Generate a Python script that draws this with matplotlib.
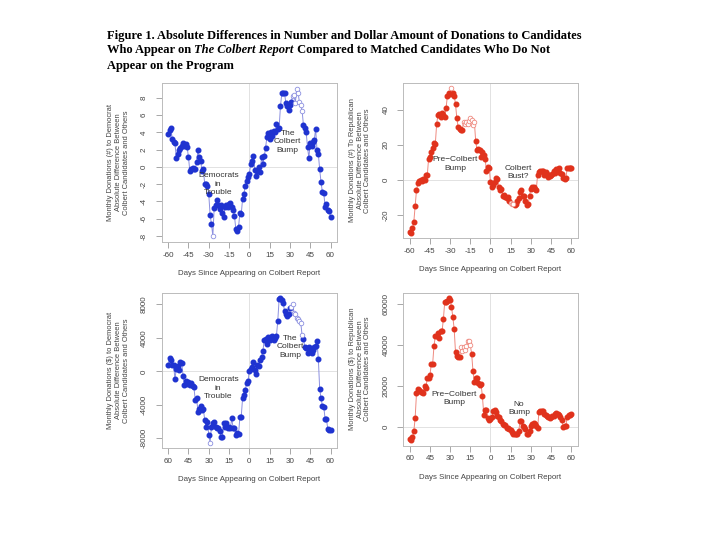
import matplotlib
matplotlib.use("Agg")
import matplotlib.pyplot as plt
import numpy as np

days = list(range(-60, 61))

dem_count = [3.8, 4.3, 4.5, 3.2, 2.9, 2.7, 1.0, 1.5, 2.0, 2.2, 2.4, 2.8, 2.4, 2.6, 2.3, 1.1,
             -0.5, -0.2, -0.1, -0.2, -0.3, 0.6, 1.9, 1.1, 0.7, -0.5, -0.3, -2.0, -2.0, -2.2,
             -3.2, -5.6, -6.6, -8.0, -4.8, -4.4, -3.8, -4.4, -4.9, -4.4, -5.4, -5.8, -4.6,
             -4.4, -4.7, -4.3, -4.2, -4.6, -5.0, -5.7, -7.2, -7.4, -7.0, -5.3, -5.5, -3.7,
             -3.1, -2.2, -1.6, -1.2, -0.8, 0.3, 0.7, 1.2, -0.4, -1.1, -0.5, 0.0, -0.6, 1.1,
             0.3, 1.2, 2.2, 3.5, 3.9, 3.2, 4.0, 3.6, 4.2, 4.0, 4.9, 4.4, 4.5, 7.0, 8.5, 8.6,
             8.5, 7.4, 7.0, 6.6, 7.2, 7.5, 8.2, 8.3, 7.4, 9.0, 8.6, 7.5, 7.2, 6.5, 4.8, 4.5,
             4.0, 2.3, 1.0, 2.8, 2.4, 2.9, 3.1, 4.4, 2.0, 1.5, -0.3, -1.8, -2.9, -3.0, -4.6,
             -4.3, -5.0, -5.1, -5.8]
dem_count_open = [-27, 32, 33, 34, 35, 36, 37, 38, 39]

rep_count = [-29.5, -30, -27.5, -24, -15, -6, -2, -0.5, 0, -0.5, 0.5, 0, 2.5, 2.5, 12, 13,
             16, 18, 21, 20.5, 32, 37, 37.5, 36, 38, 37, 36, 41, 48, 49.5, 49, 52, 49.5, 48,
             43, 35, 30, 29, 28.5, 28.5, 33, 32, 33, 31.5, 33.5, 35, 34, 31, 33, 22, 17,
             17.5, 17, 13, 16, 14, 12, 5, 7.5, 7, -1.5, -4, -3, -1, 1, 0.5, -4, -6, -5, -9,
             -8.5, -10, -10.5, -10, -12, -13, -13.5, -14, -14.5, -13.5, -12, -10.5, -7, -6,
             -9, -9, -12, -14.5, -14, -9, -5, -4, -4, -5, -6, 3, 4.5, 5, 5, 5, 3, 4.5, 3.5,
             1.5, 2, 3, 3.5, 5, 4, 6, 6, 7, 4, 3.5, 1, 0.5, 1, 6.5, 7, 7, 6.5]
rep_count_open = [-29, -20, -19, -18, -17, -16, -15, -14, -13, -12, 15, 16, 17]

dem_dollar = [800, 1600, 1300, 700, 700, -900, 300, 600, 200, 1100, 1000, -500, -1600, -1200,
              -1500, -1300, -1600, -1400, -1800, -1900, -3400, -3200, -4800, -4500, -4100,
              -4600, -4500, -5800, -6600, -6000, -7600, -8500, -6600, -6200, -6000, -6600,
              -6800, -6800, -7100, -7800, -7900, -6200, -6600, -6200, -6800, -6600, -6800,
              -5600, -6800, -6800, -7600, -7400, -7500, -5500, -5400, -3200, -2800, -2200,
              -1400, -1200, 100, 300, 500, 1100, 200, -300, 800, 600, 1400, 1700, 2400, 3700,
              3900, 3300, 4100, 3800, 4100, 4200, 3700, 4000, 4200, 6000, 8600, 8700, 8500,
              8200, 7200, 6900, 6600, 6900, 7600, 7700, 8000, 7000, 6900, 6400, 6300, 6000,
              5800, 4300, 3900, 2900, 2800, 2200, 2900, 2400, 2200, 2600, 2900, 3000, 3600,
              1500, -2100, -3200, -4100, -4200, -5700, -5700, -6900, -7000, -7000]
dem_dollar_open = [-29, 31, 32, 33, 34, 35, 36, 37, 38, 39]

rep_dollar = [-5900, -6600, -5000, -2400, 4200, 16300, 18400, 17800, 17100, 16900, 16500,
              20000, 19100, 23600, 23600, 25200, 30600, 30600, 39600, 44400, 44400, 45700,
              43600, 46800, 46800, 52800, 61300, 61300, 61500, 62900, 62200, 58900, 53700,
              48000, 36400, 34800, 34000, 34000, 38800, 37000, 39000, 37500, 39500, 42000,
              41800, 40000, 35600, 27100, 22000, 23900, 23600, 21500, 20300, 20700, 14800,
              5900, 8300, 8300, 4300, 3000, 3900, 4800, 7500, 8300, 7000, 5100, 4500, 3000,
              2700, 1200, 1000, 800, -500, -800, -1000, -1800, -2500, -3500, -3600, -3600,
              -3400, -2000, 2500, 2600, 400, 0, -1200, -3500, -3800, -2400, 500, 1500, 2000,
              1200, 400, -700, 7000, 7800, 7800, 7500, 6000, 5500, 5400, 4800, 4200, 4600,
              5200, 5400, 6000, 6500, 6300, 5700, 4500, 3000, 0, 300, 500, 4500, 5600, 5800,
              6000]
rep_dollar_open = [-22, -21, -20, -19, -18, -17, -16, -15]

xticks = [-60, -45, -30, -15, 0, 15, 30, 45, 60]
xlabels_top = ["-60", "-45", "-30", "-15", "0", "15", "30", "45", "60"]
xlabels_bottom = ["60", "45", "30", "15", "0", "15", "30", "45", "60"]

W, H = 720, 540
fig = plt.figure(figsize=(7.2, 5.4), dpi=100)
plt.rcParams['font.family'] = ['Liberation Sans', 'DejaVu Sans']

def rect(l, r, t, b):
    return [l / W, 1 - b / H, (r - l) / W, (b - t) / H]

BLUE = "#1f33d0"
BLUE_L = "#8c90e0"
RED = "#e0321c"
RED_L = "#ef8a80"
GRAY_TXT = "#444444"
TICK_FS = 5.8
LAB_FS = 5.7
YLAB_FS = 5.4
NOTE_FS = 6.0

panels = [
    dict(pos=rect(161.7, 337, 83, 242), y=dem_count, open=dem_count_open, c=BLUE, cl=BLUE_L,
         yt=[-8, -6, -4, -2, 0, 2, 4, 6, 8], ylim=(-8.7, 9.7), xl=xlabels_top,
         ylab="Monthly Donations (#) to Democrat\nAbsolute Difference Between\nColbert Candidates and Others",
         notes=[("Democrats\nin\nTrouble", 218.3, 184.3), ("The\nColbert\nBump", 287.7, 141.7)]),
    dict(pos=rect(403.3, 577.7, 82.7, 238.3), y=rep_count, open=rep_count_open, c=RED, cl=RED_L,
         yt=[-20, 0, 20, 40], ylim=(-33.3, 55.3), xl=xlabels_top,
         ylab="Monthly Donations (#) To Republican\nAbsolute Difference Between\nColbert Candidates and Others",
         notes=[("Pre\u2212Colbert\nBump", 455, 164), ("Colbert\nBust?", 518.3, 172.3)]),
    dict(pos=rect(161.7, 337, 292.7, 448.3), y=dem_dollar, open=dem_dollar_open, c=BLUE, cl=BLUE_L,
         yt=[-8000, -4000, 0, 4000, 8000], ylim=(-9190, 9390), xl=xlabels_bottom,
         ylab="Monthly Donations ($) to Democrat\nAbsolute Difference Between\nColbert Candidates and Others",
         notes=[("Democrats\nin\nTrouble", 218.3, 388.3), ("The\nColbert\nBump", 290, 346.7)]),
    dict(pos=rect(403.3, 577.7, 292.7, 445.7), y=rep_dollar, open=rep_dollar_open, c=RED, cl=RED_L,
         yt=[0, 20000, 40000, 60000], ylim=(-9380, 65680), xl=xlabels_bottom,
         ylab="Monthly Donations ($) to Republican\nAbsolute Difference Between\nColbert Candidates and Others",
         notes=[("Pre\u2212Colbert\nBump", 454, 398.3), ("No\nBump", 519, 408.3)]),
]

for p in panels:
    ax = fig.add_axes(p["pos"])
    x = np.array(days)
    y = np.array(p["y"], dtype=float)
    is_open = np.isin(x, p["open"])
    ax.axvline(0, color="#dddddd", lw=0.6, zorder=0)
    ax.axhline(0, color="#dddddd", lw=0.6, zorder=0)
    ax.plot(x, y, color=p["cl"], lw=0.7, zorder=1)
    ax.plot(x[~is_open], y[~is_open], "o", ms=3.3, color=p["c"], mec=p["c"], zorder=3)
    ax.plot(x[is_open], y[is_open], "o", ms=3.3, mfc="white", mec=p["cl"], mew=0.6, zorder=3)
    ax.set_xlim(-64.8, 64.8)
    ax.set_ylim(*p["ylim"])
    ax.set_xticks(xticks)
    ax.set_xticklabels(p["xl"])
    ax.set_yticks(p["yt"])
    ax.set_yticklabels([str(v) for v in p["yt"]], rotation=90, va="center")
    for s in ax.spines.values():
        s.set_color("#bbbbbb")
        s.set_linewidth(0.7)
    ax.tick_params(axis="both", colors="#999999", labelcolor=GRAY_TXT, labelsize=TICK_FS,
                   length=4, width=0.6, direction="out")
    ax.tick_params(axis="x", pad=3)
    ax.tick_params(axis="y", pad=6)
    ax.set_xlabel("Days Since Appearing on Colbert Report", fontsize=LAB_FS, color=GRAY_TXT,
                  labelpad=8)
    ax.set_ylabel(p["ylab"], fontsize=YLAB_FS, color=GRAY_TXT, labelpad=8, linespacing=1.15)
    for txt, tx, ty in p["notes"]:
        fig.text(tx / W, 1 - ty / H, txt, ha="center", va="center", fontsize=NOTE_FS,
                 color="#333333", linespacing=1.3)

# Title
serif = ['Liberation Serif', 'DejaVu Serif']
fs = 9.0
fig.canvas.draw()
r = fig.canvas.get_renderer()
x0 = 107 / W
lines = [
    [("Figure 1. Absolute Differences in Number and Dollar Amount of Donations to Candidates", "normal")],
    [("Who Appear on ", "normal"), ("The Colbert Report", "italic"),
     (" Compared to Matched Candidates Who Do Not", "normal")],
    [("Appear on the Program", "normal")],
]
ys = [38.5, 53.5, 68.5]
for parts, yy in zip(lines, ys):
    xx = x0
    for s, style in parts:
        t = fig.text(xx, 1 - yy / H, s, family=serif, fontsize=fs, fontweight="bold",
                     fontstyle=style, va="baseline", ha="left", color="black")
        bb = t.get_window_extent(renderer=r)
        xx += bb.width / W

fig.savefig("out.png", dpi=100)
